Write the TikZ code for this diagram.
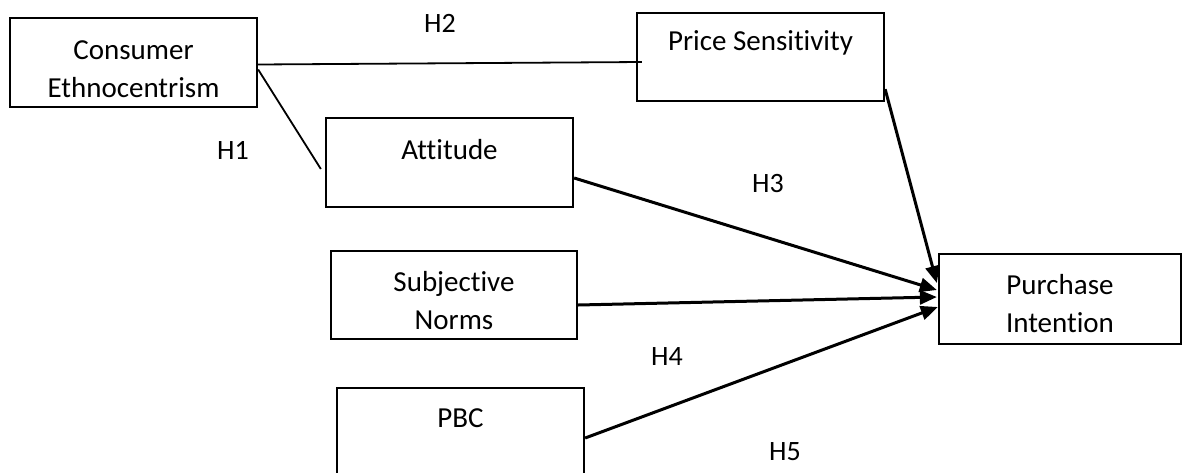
\documentclass[tikz,border=0pt]{standalone}
\usepackage{fontspec}
\setmainfont{Carlito}[RawFeature={-liga;-clig}]
\usetikzlibrary{arrows.meta,calc}
\begin{document}
\begin{tikzpicture}[x=1pt,y=-1pt,
  box/.style={draw=black, line width=2.3pt, rectangle, inner sep=0pt},
  txt/.style={font=\fontsize{29}{38}\selectfont, align=center, inner sep=0pt},
  hyp/.style={font=\fontsize{28}{32}\selectfont, inner sep=0pt},
  link/.style={draw=black, line width=1.8pt},
  arr/.style={draw=black, line width=3pt, -{Triangle[length=17pt,width=14pt]}}]
\useasboundingbox (0,0) rectangle (1183,472);
\clip (0,0) rectangle (1183,472);
\fill[white] (0,0) rectangle (1183,472);
% boxes
\node[box, minimum width=247pt, minimum height=89pt,
  label={[txt, yshift=-6.5pt]center:Consumer\\Ethnocentrism}] (ce) at (133.5,62.5) {};
\node[box, minimum width=247pt, minimum height=88pt,
  label={[txt, yshift=14pt]center:Price Sensitivity}] (ps) at (760.5,57) {};
\node[box, minimum width=247pt, minimum height=89pt,
  label={[txt, yshift=12.5pt]center:Attitude}] (att) at (449.5,162.5) {};
\node[box, minimum width=246pt, minimum height=88pt,
  label={[txt, yshift=-6pt]center:Subjective\\Norms}] (sn) at (454,295) {};
\node[box, minimum width=247pt, minimum height=100pt,
  label={[txt, yshift=20pt]center:PBC}] (pbc) at (460.5,438) {};
\node[box, minimum width=242pt, minimum height=90pt,
  label={[txt, yshift=-5pt]center:Purchase\\Intention}] (pi) at (1060,299) {};
% connectors
\draw[link] ($(ce.east)+(0,2)$) -- ($(ps.west)+(6,5)$);
\draw[link] ($(ce.east)+(0,7)$) -- ($(att.west)+(-4,6.5)$);
\draw[arr] ($(ps.south east)+(0,-13)$) -- ($(pi.west)+(-1,-16)$);
\draw[arr] ($(att.east)+(0,15.5)$) -- ($(pi.west)+(-1,-9)$);
\draw[arr] ($(sn.east)+(0,10)$) -- ($(pi.west)+(-1,-2)$);
\draw[arr] ($(pbc.east)+(0,0)$) -- ($(pi.west)+(0,8)$);
% hypothesis labels
\node[hyp] (h1) at (233,150) {H1};
\node[hyp] (h2) at (440,23) {H2};
\node[hyp] (h3) at (768,184) {H3};
\node[hyp] (h4) at (667,357) {H4};
\node[hyp] (h5) at (785,452) {H5};
\end{tikzpicture}
\end{document}
